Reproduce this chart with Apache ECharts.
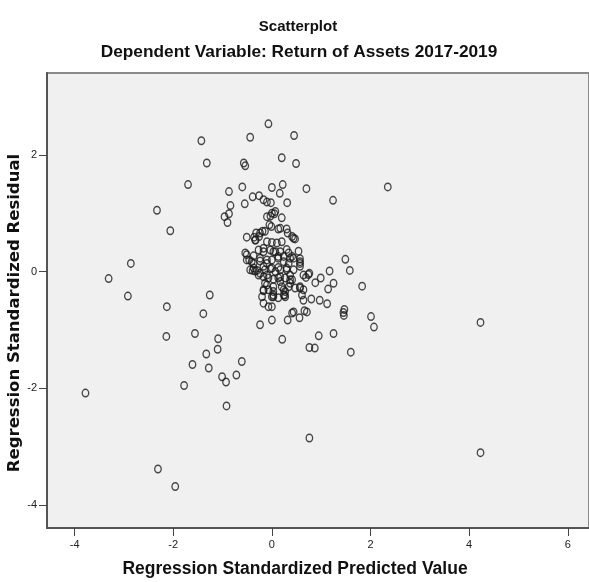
<!DOCTYPE html>
<html>
<head>
<meta charset="utf-8">
<script src="https://cdn.jsdelivr.net/npm/echarts@6/dist/echarts.min.js"></script>
<style>
  html, body { margin: 0; padding: 0; background: #fff; }
  #main { width: 589px; height: 582px; }
</style>
</head>
<body>
<div id="main"></div>
<script>
// predicted value (x) / residual (y)
var predicted = [
  -0.07, 0.45, -0.44, -1.43, 0.20, 0.49, -1.32, -0.57, -0.54, -1.70,
  -0.87, -0.60, 0.00, 0.22, 0.16, 0.31, -0.84, -0.55, -0.39, -0.26,
  -0.17, -0.10, -0.02, -2.33, -0.96, -0.87, -0.90, -2.06, -0.51, -2.86,
  -3.31, -2.92, -1.26, -2.13, 2.35, 0.70, 1.24, 1.49, 1.58, 1.17,
  1.83, 1.25, 1.14, 0.99, 0.88, 0.76, 0.69, 1.12, 0.97, 0.80,
  1.47, 0.47, -1.39, -1.56, -2.14, -1.09, -1.10, -1.33, -1.61, -1.28,
  -0.61, -0.72, -1.01, -0.93, -1.78, -3.78, -0.92, -2.31, -1.96, -0.24,
  0.00, 0.21, 0.32, 0.41, 0.44, 4.23, 4.23, 0.76, 1.60, 1.25,
  0.95, 0.76, 0.87, 2.01, 2.07, 1.45, 1.46, 0.56, 0.66, 0.07,
  0.05, 0.20, -0.10, -0.03, -0.33, -0.24, -0.14, -0.01, 0.17, 0.32,
  -0.54, -0.51, -0.39, -0.30, 0.00, -0.05, 0.13, 0.30, -0.32, -0.19,
  -0.26, -0.36, -0.10, 0.00, 0.10, 0.20, -0.27, -0.17, -0.03, 0.07,
  0.17, 0.30, 0.34, -0.51, -0.37, 0.13, 0.24, -0.41, -0.24, -0.10,
  0.00, 0.13, 0.24, 0.34, 0.41, -0.44, -0.34, -0.24, -0.14, -0.03,
  0.07, 0.17, 0.30, -0.17, -0.07, 0.03, 0.13, 0.27, 0.37, -0.10,
  0.03, 0.20, 0.34, -0.17, -0.07, 0.27, -0.20, 0.00, 0.13, 0.27,
  -0.17, -0.07, 0.00, 0.44, 0.57, 0.57, 0.57, 0.61, 0.64, 0.71,
  0.57, 0.41, 0.03, 0.26, -0.46, -0.37, 0.41, 0.74, -0.34, 0.44,
  -0.17, 0.03, 0.54, -0.24, -0.10, 0.37, 0.57, -0.37, -0.17, 0.00,
  0.13, 0.30, 0.44, -0.27, -0.10, 0.17, 0.37, 0.64, -0.14, 0.17,
  0.37, 0.57, -0.17, 0.03, 0.24, 0.47, 0.64, 0.03, 0.24
];
var residual = [
  2.53, 2.33, 2.30, 2.24, 1.95, 1.85, 1.86, 1.86, 1.81, 1.49,
  1.37, 1.45, 1.44, 1.49, 1.34, 1.18, 1.13, 1.16, 1.28, 1.30,
  1.23, 1.19, 1.18, 1.05, 0.94, 0.99, 0.84, 0.70, 0.59, 0.14,
  -0.12, -0.42, -0.40, -0.60, 1.45, 1.42, 1.22, 0.21, 0.02, 0.01,
  -0.25, -0.20, -0.30, -0.11, -0.19, -0.03, -0.10, -0.55, -0.49, -0.47,
  -0.65, 0.56, -0.72, -1.06, -1.11, -1.15, -1.33, -1.41, -1.59, -1.65,
  -1.54, -1.77, -1.80, -1.89, -1.95, -2.08, -2.30, -3.38, -3.68, -0.91,
  -0.83, -1.16, -0.83, -0.71, -0.69, -0.87, -3.10, -2.85, -1.38, -1.06,
  -1.10, -1.30, -1.31, -0.77, -0.95, -0.70, -0.75, -0.79, -0.67, 1.03,
  0.99, 0.92, 0.94, 0.95, 0.54, 0.66, 0.69, 0.77, 0.74, 0.66,
  0.32, 0.20, 0.02, 0.02, 1.00, 0.80, 0.73, 0.73, 0.66, 0.69,
  0.60, 0.59, 0.51, 0.50, 0.49, 0.51, 0.37, 0.34, 0.37, 0.34,
  0.34, 0.38, 0.32, 0.29, 0.27, 0.26, 0.26, 0.17, 0.18, 0.14,
  0.20, 0.23, 0.17, 0.14, 0.26, 0.03, 0.01, -0.03, 0.03, 0.05,
  0.00, 0.03, 0.03, -0.09, -0.11, -0.13, -0.11, -0.11, -0.14, -0.23,
  -0.26, -0.26, -0.26, -0.33, -0.31, -0.34, -0.43, -0.43, -0.45, -0.43,
  -0.54, -0.60, -0.60, 0.23, 0.22, 0.09, -0.28, -0.40, -0.49, -0.69,
  0.14, 0.60, -0.40, -0.40, 0.20, 0.14, -0.14, -0.05, 0.54, 0.57,
  0.40, 0.34, 0.35, 0.23, 0.20, 0.23, 0.17, 0.06, 0.09, 0.06,
  0.07, 0.06, 0.03, -0.06, -0.06, -0.09, -0.06, -0.06, -0.20, -0.17,
  -0.20, -0.26, -0.31, -0.34, -0.31, -0.28, -0.31, -0.43, -0.40
];
var tickValues = [-4, -2, 0, 2, 4, 6];

var points = predicted.map(function (x, i) { return [x, residual[i]]; });

var sans = '"Liberation Sans", Arial, sans-serif';

var myChart = echarts.init(document.getElementById('main'), null, { renderer: 'canvas' });

var option = {
  backgroundColor: '#fff',
  animation: false,
  title: [
    {
      text: 'Scatterplot',
      left: 293, top: 14, textAlign: 'center',
      textStyle: { fontFamily: sans, fontSize: 15, fontWeight: 'bold', color: '#111' }
    },
    {
      text: 'Dependent Variable: Return of Assets 2017-2019',
      left: 294, top: 39, textAlign: 'center',
      textStyle: { fontFamily: sans, fontSize: 17.3, fontWeight: 'bold', color: '#111' }
    }
  ],
  grid: {
    left: 47, top: 73, right: 0, bottom: 54,
    show: true, backgroundColor: '#f0f0f0',
    borderColor: '#8a8a8a', borderWidth: 2
  },
  xAxis: {
    type: 'value', min: -4.56, max: 6.43,
    splitLine: { show: false },
    axisLine: { show: true, onZero: false, lineStyle: { color: '#555', width: 2 } },
    axisTick: { show: true, length: 8, customValues: tickValues, lineStyle: { color: '#444' } },
    axisLabel: { customValues: tickValues, margin: 11, fontFamily: sans, fontSize: 11, color: '#222' }
  },
  yAxis: {
    type: 'value', min: -4.39, max: 3.40,
    splitLine: { show: false },
    axisLine: { show: true, onZero: false, lineStyle: { color: '#555', width: 2 } },
    axisTick: { show: true, length: 8, customValues: tickValues, lineStyle: { color: '#444' } },
    axisLabel: { customValues: tickValues, margin: 10, fontFamily: sans, fontSize: 11, color: '#222' }
  },
  graphic: [
    {
      type: 'text', x: 295, y: 569,
      style: {
        text: 'Regression Standardized Predicted Value',
        textAlign: 'center', textVerticalAlign: 'middle',
        font: 'bold 17.5px ' + sans, fill: '#111'
      }
    },
    {
      type: 'text', x: 15, y: 313, rotation: Math.PI / 2,
      style: {
        text: 'Regression Standardized Residual',
        textAlign: 'center', textVerticalAlign: 'middle',
        font: 'bold 16.5px "DejaVu Sans", sans-serif', fill: '#111'
      }
    }
  ],
  series: [{
    type: 'scatter',
    data: points,
    symbol: 'circle',
    symbolSize: [6.5, 7.5],
    itemStyle: { color: 'rgba(0,0,0,0)', borderColor: '#1c1c1c', borderWidth: 1.4 },
    emphasis: { disabled: true }
  }]
};

myChart.setOption(option);
</script>
</body>
</html>
